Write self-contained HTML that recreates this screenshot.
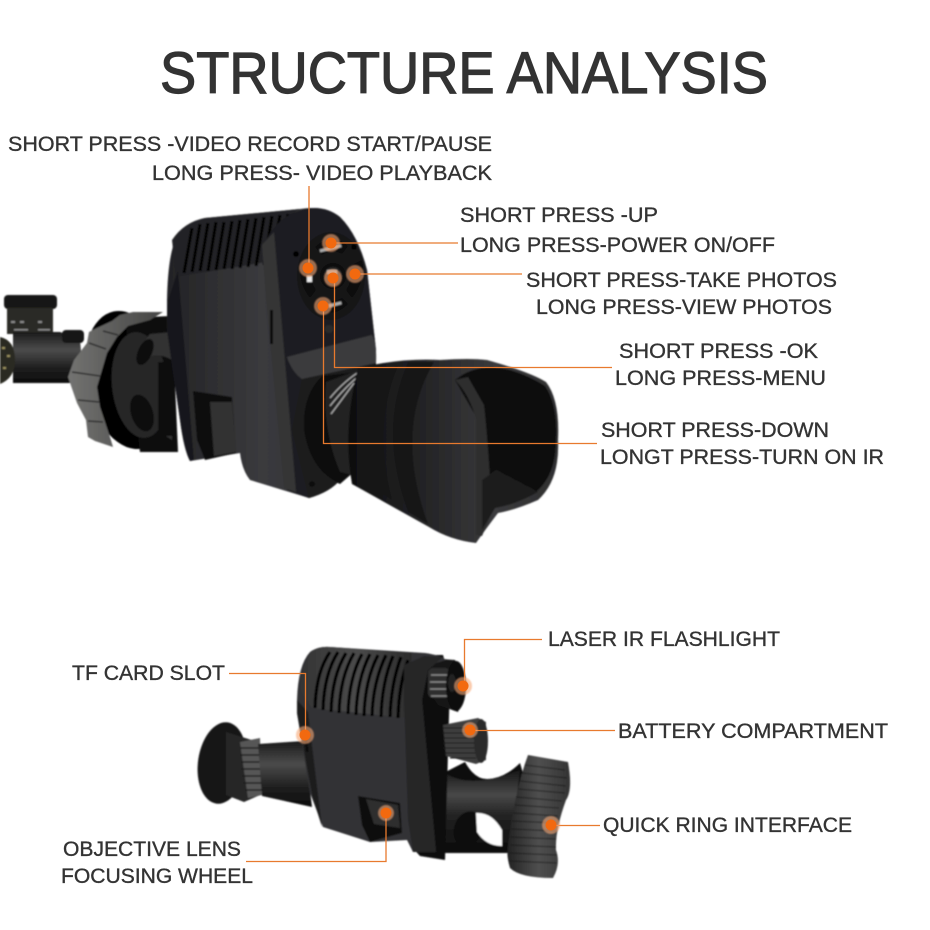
<!DOCTYPE html>
<html><head><meta charset="utf-8"><style>
html,body{margin:0;padding:0;background:#fff}
svg{display:block}
text{font-family:"Liberation Sans",sans-serif;fill:#333;stroke:#333;stroke-width:.35px;font-size:21px}
</style></head><body>
<svg width="930" height="930" viewBox="0 0 930 930" xmlns="http://www.w3.org/2000/svg">
<defs>
<filter id="b" x="-5%" y="-5%" width="110%" height="110%"><feGaussianBlur stdDeviation="0.8"/></filter>
<linearGradient id="body" x1="0" y1="0" x2="1" y2="0"><stop offset="0" stop-color="#232325"/><stop offset=".45" stop-color="#3a3a3d"/><stop offset="1" stop-color="#2e2e30"/></linearGradient>
<linearGradient id="cup" x1="0" y1="0" x2="1" y2="0"><stop offset="0" stop-color="#0f0f0f"/><stop offset=".35" stop-color="#232325"/><stop offset=".7" stop-color="#3a3a3c"/><stop offset="1" stop-color="#2e2e2f"/></linearGradient>
<linearGradient id="tubeV" x1="0" y1="0" x2="0" y2="1"><stop offset="0" stop-color="#1a1a1a"/><stop offset=".35" stop-color="#4b4b4b"/><stop offset=".7" stop-color="#1f1f1f"/><stop offset="1" stop-color="#0b0b0b"/></linearGradient>
<linearGradient id="gear" x1="0" y1="0" x2="1" y2="0"><stop offset="0" stop-color="#737371"/><stop offset="1" stop-color="#454544"/></linearGradient>
<linearGradient id="wheel" x1="0" y1="0" x2="1" y2="0"><stop offset="0" stop-color="#222"/><stop offset=".5" stop-color="#4f4f4f"/><stop offset="1" stop-color="#333"/></linearGradient>
<linearGradient id="shaft" x1="0" y1="0" x2="0" y2="1"><stop offset="0" stop-color="#161616"/><stop offset=".3" stop-color="#484848"/><stop offset=".55" stop-color="#222"/><stop offset="1" stop-color="#0b0b0b"/></linearGradient>
<linearGradient id="top2" x1="0" y1="0" x2="1" y2="0"><stop offset="0" stop-color="#333"/><stop offset=".5" stop-color="#4a4a4a"/><stop offset="1" stop-color="#2b2b2b"/></linearGradient>
</defs>

<g filter="url(#b)">
<!-- scope -->
<rect x="4" y="295" width="53" height="14" rx="4" fill="#161616"/>
<rect x="7" y="308" width="46" height="26" fill="#2a2a28"/>
<g fill="#8a8a8a"><rect x="11" y="321" width="4" height="2"/><rect x="20" y="321" width="4" height="2"/><rect x="38" y="321" width="4" height="2"/><rect x="38" y="329" width="12" height="1.500"/><rect x="14" y="329" width="14" height="1.500"/></g>
<path d="M13 332 H60 L80 340 L84 383 H27 L13 383Z" fill="url(#tubeV)"/>
<path d="M0 337 Q15 340 15 360 Q15 378 0 384Z" fill="#2c2a22"/>
<g fill="#9a9060"><rect x="2" y="347" width="3" height="2"/><rect x="7" y="355" width="3" height="2"/><rect x="3" y="367" width="3" height="2"/></g>
<rect x="62" y="330" width="22" height="13" rx="4" fill="#121212"/>
<!-- black flange & tube -->
<ellipse cx="128" cy="380" rx="42" ry="70" fill="#060606" transform="rotate(-12 128 380)"/>
<path d="M125 318 L172 316 L178 452 L140 452Z" fill="#0a0a0a"/>
<ellipse cx="140" cy="385" rx="28" ry="53" fill="#262627" transform="rotate(-6 140 385)"/>
<path d="M150 334 L172 332 L172 440 L160 432 Q165 390 172 360 Q158 352 147 358 Q137 348 150 334Z" fill="#323233"/>
<ellipse cx="145" cy="352" rx="7" ry="14" fill="#0d0d0d" transform="rotate(25 145 352)"/>
<ellipse cx="142" cy="413" rx="11" ry="19" fill="#090909" transform="rotate(-18 142 413)"/>
<rect x="158" y="362" width="14" height="74" fill="#070707"/>
<!-- gear -->
<path d="M133 312 L163 312 L150 320 L128 326 L117 337 L107 353 L97 387 L100 407 L110 437 L113 447 L95 441 L88 437 L86 420 L77 403 L68 377 L74 360 L87 343 L89 332 L97 328 L112 321 L120 315Z" fill="url(#gear)"/>
<g stroke="#2e2e2e" stroke-width="1.600" fill="none"><path d="M89 343 L106 349M72 372 L100 376M78 400 L99 402M88 421 L103 422M103 331 L118 335"/></g>

<!-- body -->
<path d="M167 300 Q168 250 178 235 Q186 222 205 218 L300 209 Q325 205 340 217 Q358 235 367 270 L376 350 V366 L340 480 Q330 492 309 498 L250 480 Q242 470 240 453 L190 461 Q184 450 180 420 L167 330Z" fill="url(#body)"/>
<path d="M172 240 Q184 222 205 218 L300 209 Q286 216 276 232 L266 262 L176 277Z" fill="#242426"/>
<g stroke="#050505" stroke-width="3">
<path d="M184 273L192 228M192 272L200 224M200 271L208 223M208 271L216 222M216 270L224 222M224 269L232 221M232 269L240 220M240 268L248 219M248 267L256 218M256 266L264 217M264 265L272 216M272 260L280 215M280 256L288 214"/>
</g>
<path d="M168 300 L178 270 L194 460 L190 461 Q184 450 180 420 L167 330Z" fill="#19191b"/>
<!-- right panel -->
<path d="M266 240 Q280 214 305 209 Q325 205 340 217 Q358 235 367 270 L376 350 V366 L340 480 Q330 492 309 498 L287 490 L268 300Z" fill="#1f1f21"/>
<path d="M262 245 L274 232 L296 492 L284 488 L266 300Z" fill="#343436"/>
<path d="M287 357 L372 335 Q377 345 376 363 L302 379Q292 372 287 357Z" fill="#3b3b3d"/>
<path d="M302 379 L376 363 L340 480 Q330 492 309 498 L292 430Z" fill="#1a1a1c"/>
<rect x="270" y="310" width="3" height="34" fill="#080808"/>
<!-- notch -->
<path d="M193 391 L232 397 L236 453 L205 460 L197 440Z" fill="#101010"/>
<path d="M210 402 L232 402 L236 452 L214 456Z" fill="#333"/>
<!-- keypad -->
<ellipse cx="331" cy="276" rx="34" ry="44" fill="#141416"/>
<circle cx="333" cy="276" r="13" fill="#0a0a0a"/>
<circle cx="333" cy="276" r="9" fill="#262626"/>
<path d="M315 247 Q332 232 348 246 L342 254 Q332 248 322 255Z" fill="#0a0a0a"/>
<path d="M315 306 Q332 320 348 304 L342 298 Q332 304 322 297Z" fill="#0a0a0a"/>
<path d="M302 260 Q296 280 310 298 L316 290 Q308 278 312 266Z" fill="#0a0a0a"/>
<path d="M362 260 Q366 280 352 298 L346 290 Q354 278 350 266Z" fill="#0a0a0a"/>
<rect x="320" y="247" width="22" height="3" fill="#aaa" transform="rotate(-14 330 250)"/>
<rect x="329" y="303" width="13" height="3" fill="#aaa" transform="rotate(-14 335 306)"/>
<rect x="307" y="276" width="5" height="6" fill="#eee"/>
<rect x="327" y="270" width="10" height="4" fill="#aaa"/>
<circle cx="296" cy="254" r="3" fill="#060606"/>
<circle cx="354" cy="247" r="3" fill="#060606"/>
<circle cx="329" cy="329" r="4" fill="#2c2c2c"/>
<circle cx="312" cy="484" r="3" fill="#070707"/>

<!-- collar + eyecup -->
<path d="M322 376 Q302 395 304 430 Q310 470 340 484 L356 470 L356 372Z" fill="#090909"/>
<path d="M326 382 L364 368 L372 480 L340 472Q322 430 326 382Z" fill="#222"/>
<g stroke="#b0b0b0" stroke-width="1.200" fill="none"><path d="M330 398Q345 380 362 370M330 406Q346 386 360 375M331 414Q346 394 354 383"/></g>
<path d="M358 368 Q400 358 440 360 Q470 358 487 360 Q530 372 546 382 Q560 400 558 440 Q560 480 538 500 Q515 510 498 513 Q485 530 476 543 Q450 540 429 527 L352 484 Q342 430 358 368Z" fill="url(#cup)"/>
<path d="M383 370 Q362 420 378 490 L392 500 Q372 425 398 366Z" fill="#141414"/>
<path d="M408 362 Q378 430 408 512 L428 524 Q394 430 434 362Z" fill="#171718"/>
<path d="M455 380 Q490 352 545 386 Q558 405 556 440 Q556 475 536 492 Q510 505 495 508 Q484 524 476 535 L478 420Z" fill="#070707"/>
<path d="M455 380 Q470 395 476 420 L476 535 L482 536 L492 512 Q488 440 484 405 L468 377Z" fill="#2e2e2f"/>
<path d="M482 480 L496 470 L538 492 Q515 505 495 508 L482 530Z" fill="#1d1d1d"/>

<!-- bottom device -->
<ellipse cx="222" cy="763" rx="24" ry="41" fill="#151515" transform="rotate(8 222 763)"/>
<path d="M226 732 L258 742 L260 795 L244 802 L226 795Z" fill="#262626"/>
<path d="M240 742 L260 738 L262 795 L248 798Z" fill="#565656"/>
<g stroke="#1e1e1e" stroke-width="1.500"><path d="M240 748H261M240 755H261M241 762H261M241 769H261M242 776H261M243 783H262M245 790H262"/></g>
<path d="M258 744 L304 741 L312 807 L262 796Z" fill="url(#tubeV)"/>
<!-- mount -->
<path d="M465 762 Q475 780 488 779 Q505 778 520 763 L525 780 L507 853 L437 853 L425 840 L430 780Z" fill="#0c0c0c"/>
<path d="M445 773 Q470 790 520 770 L510 853 L465 850 L437 853Z" fill="url(#shaft)"/>
<ellipse cx="468" cy="829" rx="14" ry="18" fill="#0d0d0d" transform="rotate(20 468 829)"/>
<path d="M476 813 Q492 812 502 830 V846 Q486 846 477 832Z" fill="#fff"/>
<!-- wheel -->
<path d="M528 755 L568 762 Q573 790 566 800 Q555 830 556 850 Q561 864 553 878 Q520 878 510 868 Q506 855 508 845 Q515 790 528 755Z" fill="url(#wheel)"/>
<g stroke="#161616" stroke-width="1" opacity=".75"><path d="M525 765L565 770M522 773L567 778M520 781L566 786M518 789L565 793M516 797L562 801M515 805L559 808M513 813L558 816M512 821L557 823M511 829L556 831M510 837L556 839M510 845L556 847M509 853L557 855M509 861L557 863"/></g>
<!-- laser -->
<path d="M405 655 L443 655 L450 680 L445 860 L420 856 L410 845Z" fill="#0c0c0c"/>
<path d="M428 658 L455 660 L468 685 L458 712 L438 705 L428 690Z" fill="#151515"/>
<rect x="428" y="668" width="22" height="30" rx="5" fill="#2e2e2e"/>
<g stroke="#888" stroke-width="1.500"><path d="M431 675H448M430 682H449M430 689H449M431 696H448"/></g>
<ellipse cx="456" cy="686" rx="10" ry="25" fill="#080808"/>
<ellipse cx="452" cy="683" rx="4" ry="9" fill="#222"/>
<!-- battery cap -->
<path d="M443 725 L478 718 L486 722 L486 760 L476 764 L446 756Z" fill="#3e3e3e"/>
<g stroke="#161616" stroke-width="1.100"><path d="M443 728H478M443 733H478M443 738H478M443 743H478M443 748H478M445 753H478M450 758H476"/></g>
<ellipse cx="481" cy="741" rx="7" ry="22" fill="#2a2a2a"/>
<!-- body -->
<path d="M297 700 Q298 665 310 652 Q318 646 330 647 L425 653 Q440 655 446 660 L420 668 L410 687 L427 847 L413 852 L407 840 L370 842 L323 827 L310 793 L297 713Z" fill="#333335"/>
<path d="M300 690 Q302 665 312 652 Q318 646 330 647 L412 653 L408 718 L312 708Z" fill="url(#top2)"/>
<g stroke="#060606" stroke-width="3.200" fill="none">
<path d="M315 708Q316 672 330 652M323 710Q324 674 338 652M331 712Q332 676 346 653M339 713Q340 677 354 653M348 714Q349 678 362 654M356 715Q357 679 370 654M364 716Q365 680 378 655M372 716Q373 682 386 655M381 717Q382 682 393 656M390 717Q391 684 401 657M398 718Q399 684 408 660"/>
</g>
<path d="M404 665 L424 656 L443 657 L428 670 L422 700 L436 852 L413 852 L408 820 L404 700Z" fill="#262628"/>
<path d="M297 700 L308 712 L322 827 L312 795 L297 713Z" fill="#1f1f1f"/>
<rect x="305" y="738" width="3" height="14" fill="#080808" transform="rotate(-8 306 745)"/>
<!-- notch -->
<path d="M358 796 L400 803 L402 833 L370 842 L362 825Z" fill="#101010"/>
<path d="M366 799 L398 805 L400 828 L374 824Z" fill="#2e2e2e"/>
</g>

<!-- connectors -->
<g stroke="#e87a2e" stroke-width="1.300" fill="none">
<path d="M309 186V267"/>
<path d="M331 243H458"/>
<path d="M355 274H522"/>
<path d="M334.500 278V367.500H612"/>
<path d="M323.500 306V443.500H597"/>
<path d="M542 639.500H464.500V686"/>
<path d="M229 673.500H305.500V735"/>
<path d="M470 730.500H615"/>
<path d="M551 825.500H600"/>
<path d="M386 813V861.500H246"/>
</g>
<!-- dots -->
<g fill="#f7a877" opacity=".6" filter="url(#b)">
<circle cx="308" cy="268" r="9"/><circle cx="331" cy="243" r="9"/><circle cx="355" cy="274" r="9"/><circle cx="333" cy="278" r="9"/><circle cx="323" cy="306" r="9"/>
<circle cx="463" cy="686" r="9"/><circle cx="305" cy="735" r="9"/><circle cx="470" cy="730" r="8"/><circle cx="551" cy="825" r="9"/><circle cx="386" cy="813" r="8"/>
</g>
<g fill="#f2690f">
<circle cx="308" cy="268" r="5.500"/><circle cx="331" cy="243" r="5.500"/><circle cx="355" cy="274" r="5.500"/><circle cx="333" cy="278" r="5.500"/><circle cx="323" cy="306" r="5.500"/>
<circle cx="463" cy="686" r="5.500"/><circle cx="305" cy="735" r="5.500"/><circle cx="470" cy="730" r="5.500"/><circle cx="551" cy="825" r="5.500"/><circle cx="386" cy="813" r="5.500"/>
</g>

<!-- labels -->
<text x="160" y="93" style="font-size:58px;stroke-width:1.200px" textLength="608" lengthAdjust="spacingAndGlyphs">STRUCTURE ANALYSIS</text>
<text x="8" y="151" textLength="484" lengthAdjust="spacingAndGlyphs">SHORT PRESS -VIDEO RECORD START/PAUSE</text>
<text x="152" y="180" textLength="340" lengthAdjust="spacingAndGlyphs">LONG PRESS- VIDEO PLAYBACK</text>
<text x="460" y="222" textLength="198" lengthAdjust="spacingAndGlyphs">SHORT PRESS -UP</text>
<text x="460" y="252" textLength="315" lengthAdjust="spacingAndGlyphs">LONG PRESS-POWER ON/OFF</text>
<text x="526" y="287" textLength="311" lengthAdjust="spacingAndGlyphs">SHORT PRESS-TAKE PHOTOS</text>
<text x="536" y="314" textLength="296" lengthAdjust="spacingAndGlyphs">LONG PRESS-VIEW PHOTOS</text>
<text x="619" y="358" textLength="199" lengthAdjust="spacingAndGlyphs">SHORT PRESS -OK</text>
<text x="615" y="385" textLength="211" lengthAdjust="spacingAndGlyphs">LONG PRESS-MENU</text>
<text x="601" y="437" textLength="228" lengthAdjust="spacingAndGlyphs">SHORT PRESS-DOWN</text>
<text x="600" y="464" textLength="284" lengthAdjust="spacingAndGlyphs">LONGT PRESS-TURN ON IR</text>
<text x="548" y="646" textLength="232" lengthAdjust="spacingAndGlyphs">LASER IR FLASHLIGHT</text>
<text x="72" y="680" textLength="153" lengthAdjust="spacingAndGlyphs">TF CARD SLOT</text>
<text x="618" y="738" textLength="270" lengthAdjust="spacingAndGlyphs">BATTERY COMPARTMENT</text>
<text x="603" y="832" textLength="249" lengthAdjust="spacingAndGlyphs">QUICK RING INTERFACE</text>
<text x="63" y="856" textLength="178" lengthAdjust="spacingAndGlyphs">OBJECTIVE LENS</text>
<text x="61" y="883" textLength="192" lengthAdjust="spacingAndGlyphs">FOCUSING WHEEL</text>
</svg>
</body></html>
